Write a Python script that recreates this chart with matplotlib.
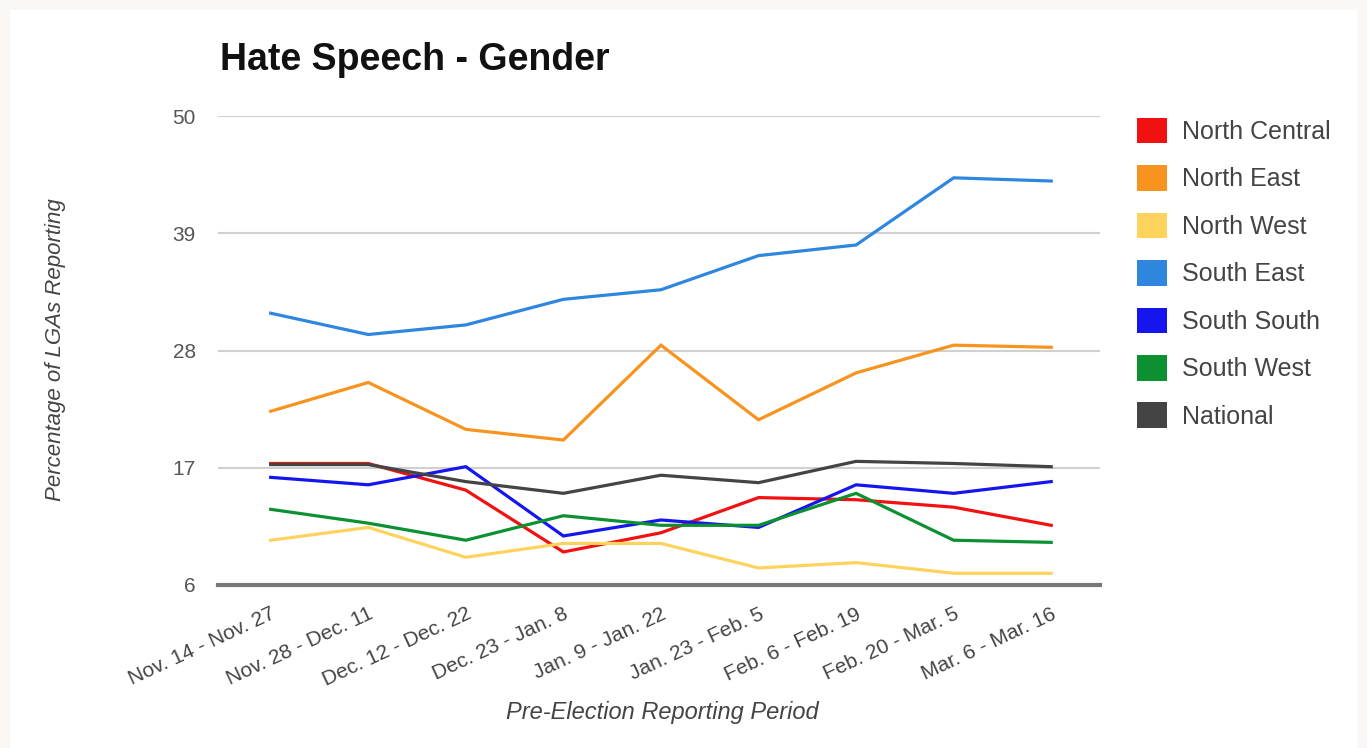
import matplotlib
matplotlib.use("Agg")
import matplotlib.pyplot as plt
from matplotlib.patches import Patch

plt.rcParams['font.family'] = ['Liberation Sans', 'DejaVu Sans']

periods = ["Nov. 14 - Nov. 27", "Nov. 28 - Dec. 11", "Dec. 12 - Dec. 22",
           "Dec. 23 - Jan. 8", "Jan. 9 - Jan. 22", "Jan. 23 - Feb. 5",
           "Feb. 6 - Feb. 19", "Feb. 20 - Mar. 5", "Mar. 6 - Mar. 16"]

north_central = [17.4, 17.4, 14.9, 9.1, 10.9, 14.2, 14.0, 13.3, 11.6]
north_east    = [22.3, 25.0, 20.6, 19.6, 28.5, 21.5, 25.9, 28.5, 28.3]
north_west    = [10.2, 11.4, 8.6, 9.9, 9.9, 7.6, 8.1, 7.1, 7.1]
south_east    = [31.5, 29.5, 30.4, 32.8, 33.7, 36.9, 37.9, 44.2, 43.9]
south_south   = [16.1, 15.4, 17.1, 10.6, 12.1, 11.4, 15.4, 14.6, 15.7]
south_west    = [13.1, 11.8, 10.2, 12.5, 11.6, 11.6, 14.6, 10.2, 10.0]
national      = [17.3, 17.3, 15.7, 14.6, 16.3, 15.6, 17.6, 17.4, 17.1]

series_names = ["North Central", "North East", "North West", "South East",
                "South South", "South West", "National"]
series_values = [north_central, north_east, north_west, south_east,
                 south_south, south_west, national]
colors = ["#f21111", "#f7931e", "#fdd35e", "#2f86de", "#1515f0", "#0c9132", "#444444"]

yticks = [6, 17, 28, 39, 50]

W, H = 1367, 748
fig = plt.figure(figsize=(W / 100, H / 100), dpi=100)
fig.patch.set_facecolor("#faf7f5")
bg = fig.add_axes([10 / W, 0, 1 - 20 / W, 1 - 10 / H], zorder=-10)
bg.set_facecolor("white")
bg.set_xticks([]); bg.set_yticks([])
for s in bg.spines.values():
    s.set_visible(False)

ax = fig.add_axes([218 / W, 1 - 585 / H, (1100 - 218) / W, (585 - 116) / H], zorder=1)
ax.patch.set_alpha(0)

x = list(range(len(periods)))
for name, vals, c in zip(series_names, series_values, colors):
    ax.plot(x, vals, color=c, lw=2.3, solid_joinstyle='miter', zorder=3)

ax.set_xlim(-0.54, 8.5)
ax.set_ylim(6, 50)
ax.set_yticks(yticks)
ax.set_yticklabels([str(t) for t in yticks], fontsize=15, color="#555555")
ax.set_xticks(x)
ax.set_xticklabels(periods, rotation=25, ha="right", rotation_mode="anchor",
                   fontsize=15, color="#444444")
ax.tick_params(axis='both', length=0)
ax.tick_params(axis='y', pad=16)
ax.tick_params(axis='x', pad=14)
ax.grid(axis='y', color="#d0d0d0", lw=1.5, zorder=0)
for s in ["top", "right", "left"]:
    ax.spines[s].set_visible(False)
ax.spines["bottom"].set_color("#777777")
ax.spines["bottom"].set_linewidth(3)
ax.spines["bottom"].set_zorder(4)

fig.text(220 / W, 1 - 60 / H, "Hate Speech - Gender", fontsize=27,
         fontweight="bold", color="#111111", va="center", ha="left")
fig.text(662 / W, 1 - 713 / H, "Pre-Election Reporting Period", fontsize=17,
         style="italic", color="#444444", ha="center", va="center")
fig.text(56 / W, 1 - 350 / H, "Percentage of LGAs Reporting", fontsize=16,
         style="italic", color="#444444", ha="center", va="center", rotation=90)

handles = [Patch(facecolor=c, edgecolor="none") for c in colors]
fig.legend(handles, series_names, loc="upper left",
           bbox_to_anchor=(1114 / W, 1 - 95 / H), frameon=False,
           fontsize=18, handlelength=1.2, handleheight=1.2,
           labelspacing=0.85, handletextpad=0.6, labelcolor="#444444")

fig.savefig("out.png", dpi=100, facecolor=fig.get_facecolor())
